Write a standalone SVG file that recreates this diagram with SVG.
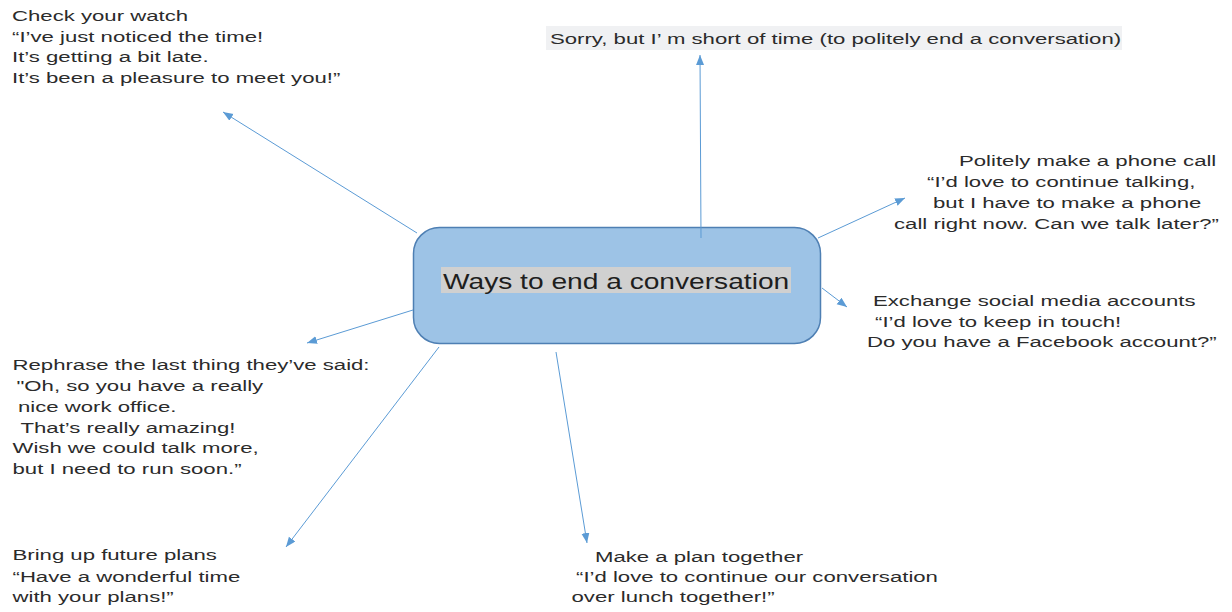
<svg xmlns="http://www.w3.org/2000/svg" width="1232" height="612" viewBox="0 0 1232 612">
  <style>
    .t { font-family: "Liberation Sans", Arial, sans-serif; font-size: 15.5px; fill: #2b2b2b; }
    .title { font-family: "Liberation Sans", Arial, sans-serif; font-size: 22px; fill: #1e1e1e; }
    .link { stroke: #5B9BD5; stroke-width: 1; fill: none; marker-end: url(#arrow); }
  </style>
  <defs>
    <marker id="arrow" markerUnits="userSpaceOnUse" markerWidth="12" markerHeight="10" refX="10" refY="4" orient="auto">
      <path d="M0,0 L10,4 L0,8 Z" fill="#5B9BD5"/>
    </marker>
  </defs>
  <rect width="1232" height="612" fill="#ffffff"/>

  <!-- central topic -->
  <g id="center">
    <rect x="413.5" y="227.5" width="407" height="116" rx="26" ry="26" fill="#9DC3E6" stroke="#4E7FB3" stroke-width="1.5"/>
    <rect x="441" y="267" width="350" height="26" fill="#D0D0D0"/>
    <text class="title" transform="translate(443,288.5) scale(1.28,1)">Ways to end a conversation</text>
  </g>

  <!-- connectors -->
  <g id="connectors">
    <line class="link" x1="701" y1="238" x2="700" y2="55"/>
    <line class="link" x1="417" y1="233" x2="223" y2="112"/>
    <line class="link" x1="818" y1="238" x2="905" y2="198"/>
    <line class="link" x1="822" y1="288" x2="847" y2="307"/>
    <line class="link" x1="413" y1="310" x2="307" y2="343"/>
    <line class="link" x1="439" y1="347" x2="286" y2="547"/>
    <line class="link" x1="556" y1="352" x2="587" y2="543"/>
  </g>

  <g id="node-watch">
    <text class="t" transform="translate(12,21) scale(1.43,1)">Check your watch</text>
    <text class="t" transform="translate(12,41.5) scale(1.43,1)">“I’ve just noticed the time!</text>
    <text class="t" transform="translate(12,62) scale(1.43,1)">It’s getting a bit late.</text>
    <text class="t" transform="translate(12,82.5) scale(1.43,1)">It’s been a pleasure to meet you!”</text>
  </g>

  <g id="node-short-time">
    <rect x="546" y="26" width="576" height="24" fill="#F0F1F3"/>
    <text class="t" transform="translate(550,43.5) scale(1.43,1)">Sorry, but I’ m short of time (to politely end a conversation)</text>
  </g>

  <g id="node-phone">
    <text class="t" transform="translate(959,166) scale(1.43,1)">Politely make a phone call</text>
    <text class="t" transform="translate(927,187) scale(1.43,1)">“I’d love to continue talking,</text>
    <text class="t" transform="translate(933,208) scale(1.43,1)">but I have to make a phone</text>
    <text class="t" transform="translate(894,229) scale(1.43,1)">call right now. Can we talk later?”</text>
  </g>

  <g id="node-social">
    <text class="t" transform="translate(873,305.5) scale(1.43,1)">Exchange social media accounts</text>
    <text class="t" transform="translate(875,326.5) scale(1.43,1)">“I’d love to keep in touch!</text>
    <text class="t" transform="translate(867,347) scale(1.43,1)">Do you have a Facebook account?”</text>
  </g>

  <g id="node-rephrase">
    <text class="t" transform="translate(12.5,370) scale(1.43,1)">Rephrase the last thing they’ve said:</text>
    <text class="t" transform="translate(16.5,391) scale(1.43,1)">"Oh, so you have a really</text>
    <text class="t" transform="translate(18,411.5) scale(1.43,1)">nice work office.</text>
    <text class="t" transform="translate(20.5,432.5) scale(1.43,1)">That’s really amazing!</text>
    <text class="t" transform="translate(12.5,453) scale(1.43,1)">Wish we could talk more,</text>
    <text class="t" transform="translate(12.5,474) scale(1.43,1)">but I need to run soon.”</text>
  </g>

  <g id="node-future">
    <text class="t" transform="translate(12.5,560) scale(1.43,1)">Bring up future plans</text>
    <text class="t" transform="translate(12.5,581.5) scale(1.43,1)">“Have a wonderful time</text>
    <text class="t" transform="translate(12.5,602) scale(1.43,1)">with your plans!”</text>
  </g>

  <g id="node-plan">
    <text class="t" transform="translate(595,561.5) scale(1.43,1)">Make a plan together</text>
    <text class="t" transform="translate(576,582) scale(1.43,1)">“I’d love to continue our conversation</text>
    <text class="t" transform="translate(571.5,602) scale(1.43,1)">over lunch together!”</text>
  </g>
</svg>
